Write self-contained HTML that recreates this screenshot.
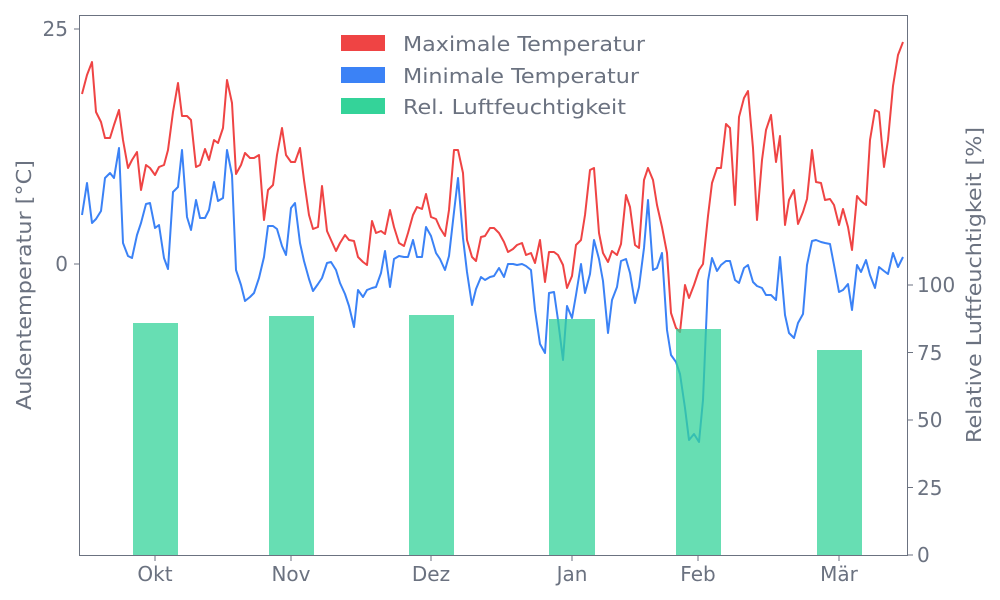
<!DOCTYPE html>
<html><head><meta charset="utf-8"><style>
html,body{margin:0;padding:0;background:#fff;}
svg{display:block;font-family:"DejaVu Sans","Liberation Sans",sans-serif;}
</style></head><body>
<svg width="1000" height="600" viewBox="0 0 1000 600">
<rect width="1000" height="600" fill="#fff"/>
<g fill="none" stroke-width="2" stroke-linejoin="round">
<polyline stroke="#ef4444" points="82,94 87,75 92,62 96,112 101,122 105,138 110,138 114,125 119,110 123,140 128,168 132,160 137,152 141,190 146,165 150,168 155,175 159,167 164,165 168,150 173,112 178,83 182,116 187,116 191,120 196,167 200,165 205,149 209,160 214,140 218,143 223,128 227,80 232,103 236,174 241,165 245,153 250,158 254,158 259,155 264,220 268,190 273,185 277,155 282,128 286,155 291,162 295,162 300,148 304,180 309,215 313,229 318,227 322,186 327,231 331,240 336,251 340,243 345,235 349,240 354,241 358,257 363,262 367,265 372,221 376,233 381,231 385,234 390,210 394,227 399,243 404,246 408,233 413,215 417,207 422,209 426,194 431,217 436,219 440,228 445,236 449,210 454,150 458,150 463,173 467,240 472,257 476,261 481,237 485,236 490,228 494,228 499,233 504,242 508,252 513,249 517,245 522,243 526,255 531,253 535,263 540,240 545,282 549,252 554,252 558,255 563,265 567,288 572,276 576,245 581,240 585,215 590,170 594,168 599,233 603,253 608,262 612,251 617,255 621,244 626,195 630,207 635,245 639,248 644,180 648,168 653,180 657,205 662,227 667,253 671,313 676,328 680,332 685,285 689,298 694,285 699,270 703,264 708,216 712,183 717,168 721,168 726,124 730,128 735,205 739,117 744,98 748,91 753,148 757,220 762,160 766,130 771,115 776,162 780,136 785,225 789,200 794,190 798,224 803,212 807,199 812,150 816,182 821,183 825,200 830,199 834,205 839,225 843,209 848,227 852,250 857,196 861,201 866,205 870,140 875,110 879,112 884,167 888,140 893,86 898,55 903,42"/>
<polyline stroke="#3b82f6" points="82,215 87,183 92,223 96,219 101,211 105,178 110,173 114,178 119,148 123,243 128,256 132,258 137,235 141,223 146,204 150,203 155,228 159,225 164,258 168,269 173,192 178,187 182,150 187,217 191,230 196,200 200,218 205,218 209,210 214,182 218,201 223,198 227,150 232,175 236,270 241,285 245,301 250,297 254,293 259,278 264,257 268,226 273,226 277,229 282,246 286,255 291,208 295,203 300,243 304,261 309,279 313,291 318,284 322,278 327,263 331,262 336,270 340,283 345,294 349,306 354,327 358,290 363,297 367,290 372,288 376,287 381,273 385,251 390,287 394,259 399,256 404,257 408,257 413,240 417,257 422,257 426,227 431,236 436,253 440,259 445,270 449,256 454,212 458,178 463,238 467,272 472,305 476,289 481,277 485,280 490,277 494,276 499,268 504,277 508,264 513,264 517,265 522,264 526,266 531,270 535,310 540,344 545,353 549,293 554,292 558,320 563,360 567,306 572,318 576,295 581,264 585,293 590,274 594,240 599,259 603,281 608,333 612,300 617,287 621,261 626,259 630,273 635,303 639,287 644,248 648,200 653,270 657,268 662,253 667,330 671,355 676,362 680,374 685,408 689,440 694,434 699,442 703,400 708,281 712,258 717,271 721,265 726,261 730,261 735,280 739,283 744,268 748,265 753,282 757,286 762,288 766,295 771,295 776,300 780,257 785,315 789,333 794,338 798,323 803,314 807,265 812,241 816,240 821,242 825,243 830,244 834,265 839,292 843,290 848,284 852,310 857,265 861,272 866,260 870,275 875,288 879,267 884,271 888,274 893,253 898,267 903,257"/>
</g>
<g fill="#34d399" fill-opacity="0.75">
<rect x="133" y="323" width="45" height="232"/>
<rect x="269" y="316" width="45" height="239"/>
<rect x="409" y="315" width="45" height="240"/>
<rect x="549" y="319" width="46" height="236"/>
<rect x="676" y="329" width="45" height="226"/>
<rect x="817" y="350" width="45" height="205"/>
</g>
<rect x="79.5" y="15.5" width="828" height="540" fill="none" stroke="#6b7280" stroke-width="1"/>
<g stroke="#6b7280" stroke-width="1">
<line x1="74" y1="29" x2="80" y2="29"/><line x1="74" y1="264" x2="80" y2="264"/>
<line x1="155" y1="555" x2="155" y2="561"/><line x1="291" y1="555" x2="291" y2="561"/><line x1="431" y1="555" x2="431" y2="561"/><line x1="572" y1="555" x2="572" y2="561"/><line x1="698" y1="555" x2="698" y2="561"/><line x1="839" y1="555" x2="839" y2="561"/>
<line x1="907" y1="555" x2="913" y2="555"/><line x1="907" y1="487.5" x2="913" y2="487.5"/><line x1="907" y1="420" x2="913" y2="420"/><line x1="907" y1="352.5" x2="913" y2="352.5"/><line x1="907" y1="285" x2="913" y2="285"/>
</g>
<g fill="#6b7280" font-size="20">
<text x="68" y="36" text-anchor="end">25</text>
<text x="68" y="271" text-anchor="end">0</text>
<text x="155" y="581" text-anchor="middle">Okt</text>
<text x="291" y="581" text-anchor="middle">Nov</text>
<text x="431" y="581" text-anchor="middle">Dez</text>
<text x="572" y="581" text-anchor="middle">Jan</text>
<text x="698" y="581" text-anchor="middle">Feb</text>
<text x="839" y="581" text-anchor="middle">Mär</text>
<text x="917" y="562">0</text>
<text x="917" y="495">25</text>
<text x="917" y="427">50</text>
<text x="917" y="360">75</text>
<text x="917" y="292">100</text>
<text transform="translate(31,285) rotate(-90)" text-anchor="middle" textLength="250" lengthAdjust="spacingAndGlyphs">Außentemperatur [°C]</text>
<text transform="translate(981,285) rotate(-90)" text-anchor="middle" textLength="316" lengthAdjust="spacingAndGlyphs">Relative Luftfeuchtigkeit [%]</text>
<rect x="341" y="35" width="44" height="16" fill="#ef4444"/>
<rect x="341" y="67" width="44" height="16" fill="#3b82f6"/>
<rect x="341" y="98" width="44" height="16" fill="#34d399"/>
<text x="403" y="51" textLength="242" lengthAdjust="spacingAndGlyphs">Maximale Temperatur</text>
<text x="403" y="83" textLength="236" lengthAdjust="spacingAndGlyphs">Minimale Temperatur</text>
<text x="403" y="114" textLength="223" lengthAdjust="spacingAndGlyphs">Rel. Luftfeuchtigkeit</text>
</g>
</svg>
</body></html>
